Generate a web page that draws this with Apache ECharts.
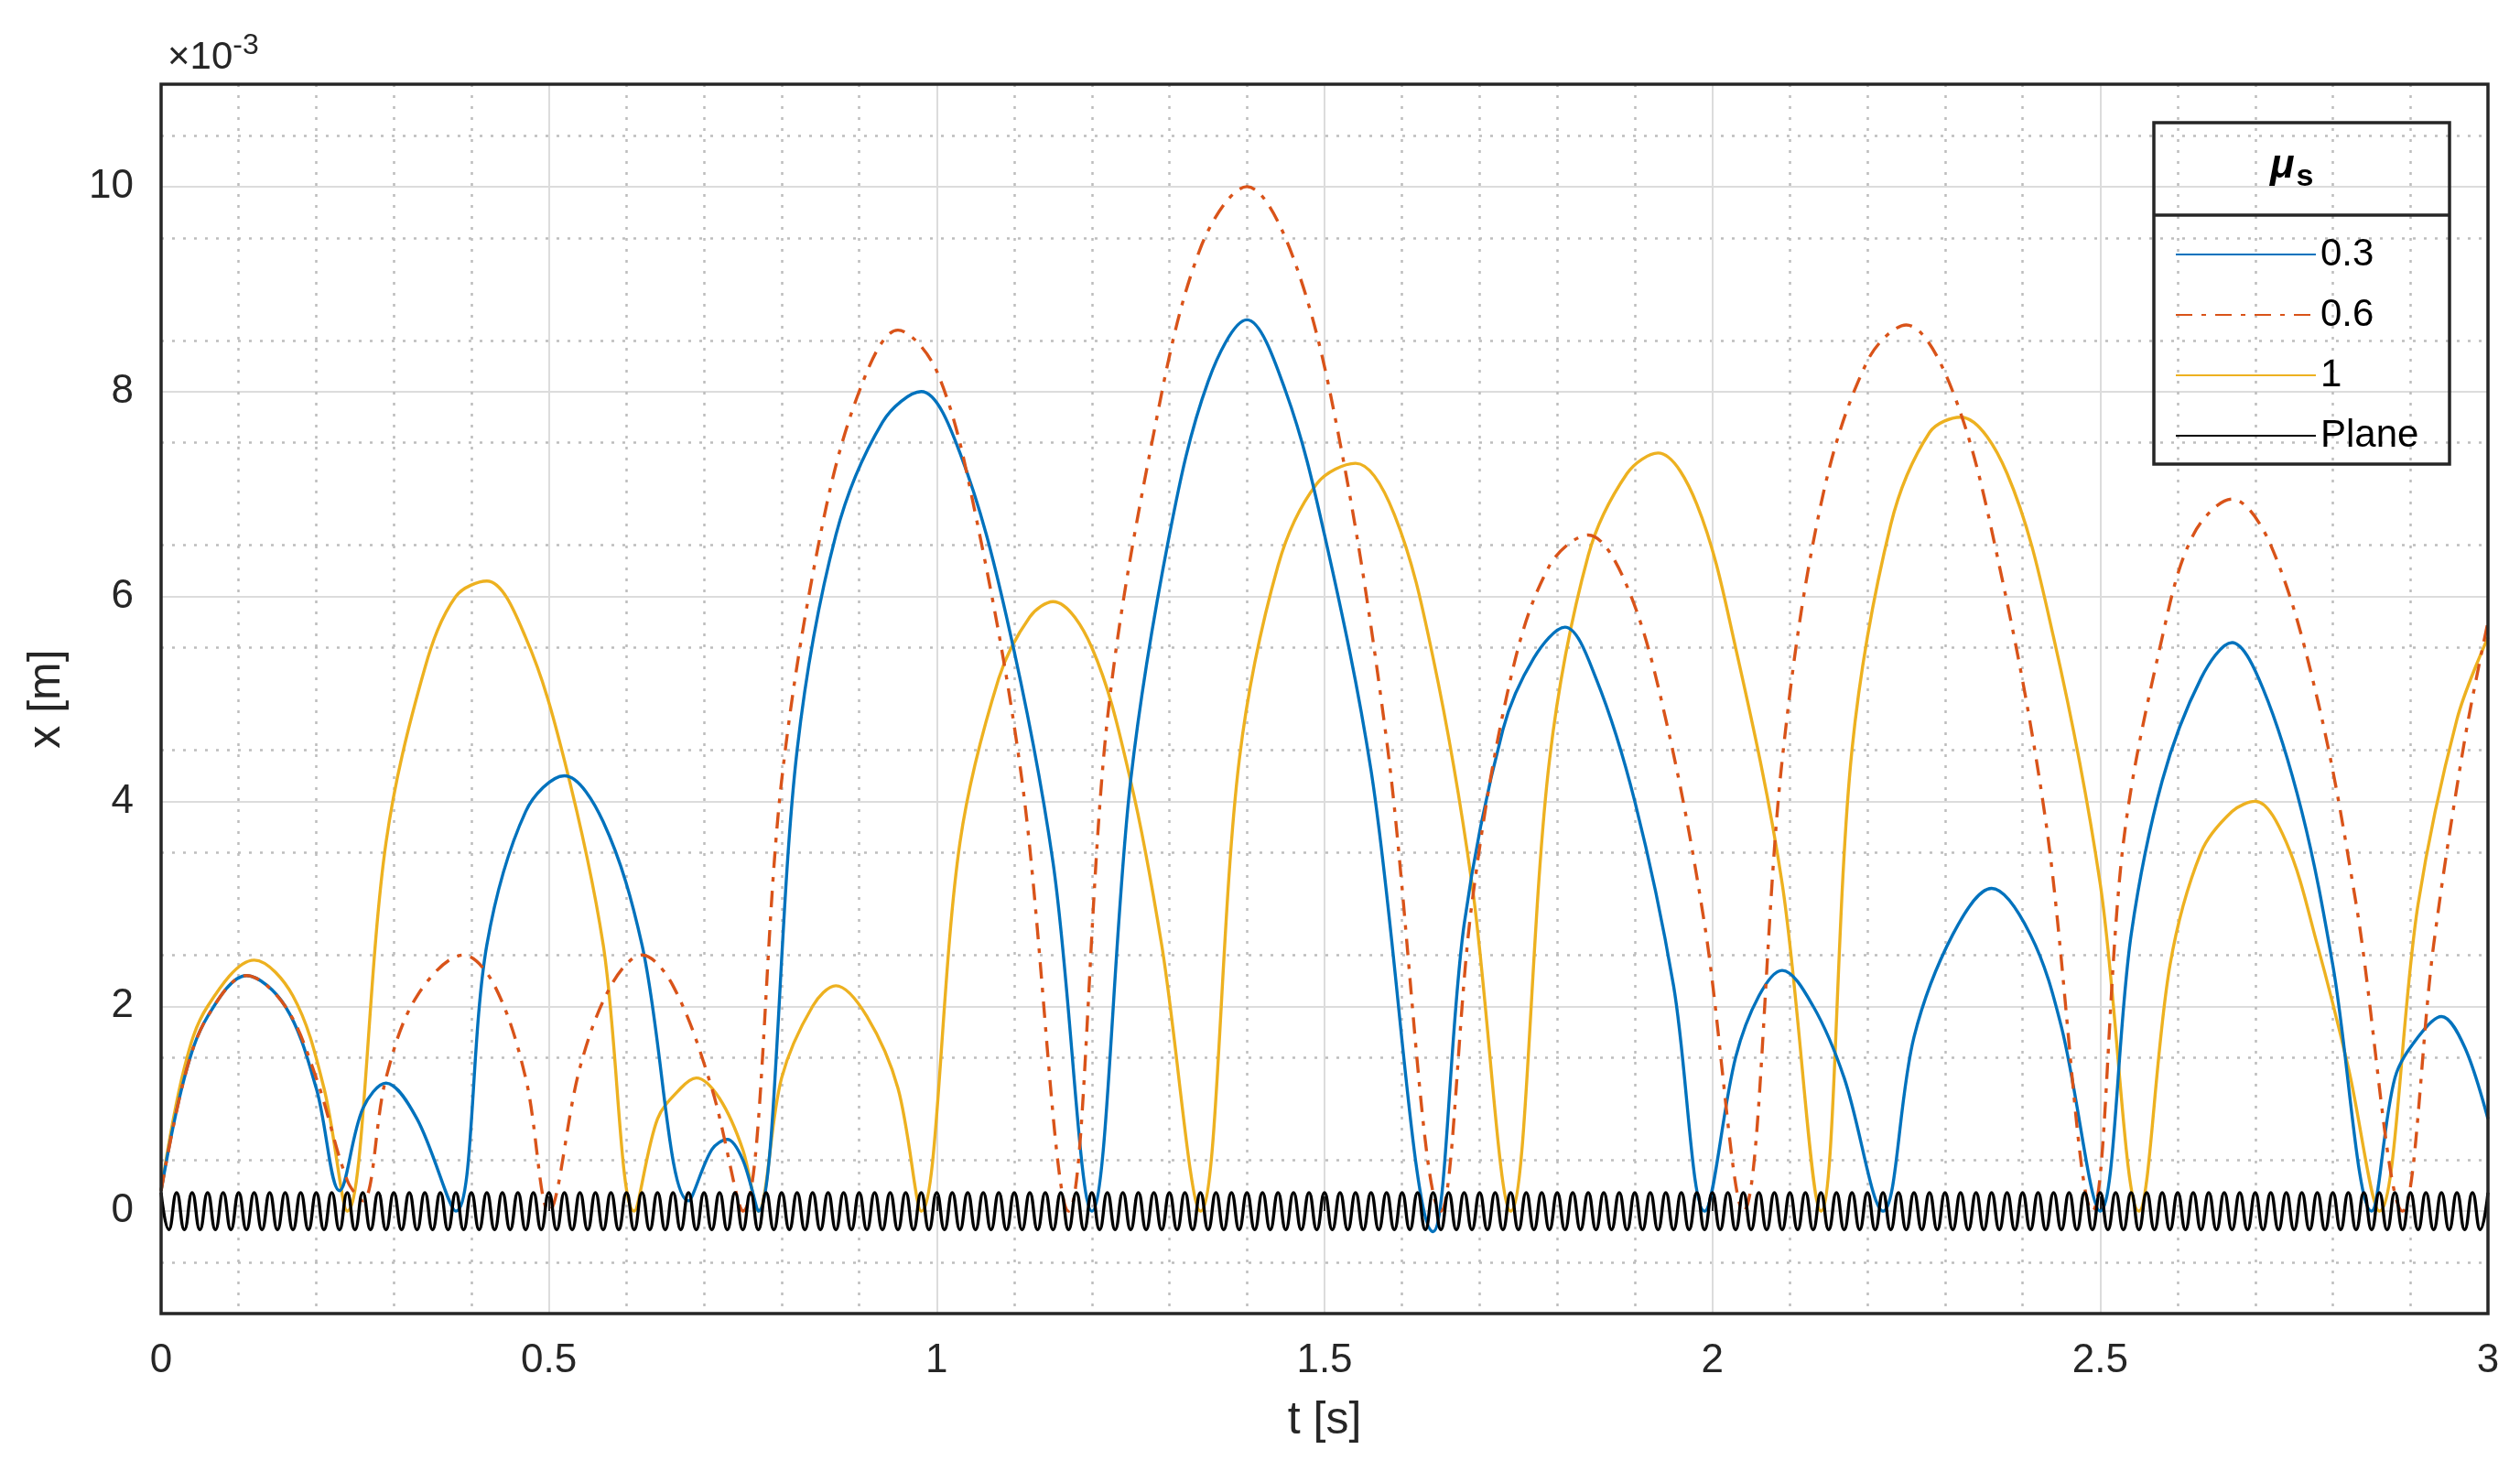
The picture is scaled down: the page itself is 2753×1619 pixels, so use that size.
<!DOCTYPE html>
<html><head><meta charset="utf-8">
<script src="https://cdn.jsdelivr.net/npm/echarts@6/dist/echarts.min.js"></script>
<style>html,body{margin:0;padding:0;background:#fff}#c{width:2753px;height:1619px}</style>
</head><body><div id="c"></div>
<script>
const seriesNames = ['0.3', '0.6', '1', 'Plane'];
const blue03 = [[0,0.2],[0.03,1.3],[0.06,1.9],[0.11,2.3],[0.16,2.0],[0.2,1.2],[0.23,0.2],[0.26,1.0],[0.29,1.25],[0.33,0.9],[0.38,0],[0.42,2.6],[0.47,3.9],[0.52,4.25],[0.57,3.8],[0.62,2.6],[0.68,0.1],[0.71,0.6],[0.73,0.7],[0.75,0.5],[0.77,0],[0.82,4.5],[0.87,6.6],[0.93,7.7],[0.98,8.0],[1.03,7.4],[1.09,5.8],[1.15,3.4],[1.2,0],[1.25,4.2],[1.30,6.6],[1.35,8.1],[1.40,8.7],[1.45,8.0],[1.50,6.6],[1.56,4.3],[1.64,-0.2],[1.68,2.8],[1.73,4.7],[1.77,5.4],[1.81,5.7],[1.85,5.2],[1.90,4.0],[1.95,2.2],[1.99,0],[2.03,1.5],[2.06,2.1],[2.09,2.35],[2.13,2.0],[2.17,1.3],[2.22,0],[2.26,1.7],[2.31,2.7],[2.36,3.15],[2.41,2.7],[2.45,1.8],[2.50,0],[2.54,2.7],[2.58,4.2],[2.63,5.2],[2.67,5.55],[2.71,5.1],[2.76,3.9],[2.80,2.4],[2.85,0],[2.88,1.3],[2.91,1.7],[2.94,1.9],[2.97,1.6],[3.0,0.9]];
const red06 = [[0,0.2],[0.03,1.3],[0.06,1.9],[0.11,2.3],[0.16,2.0],[0.2,1.3],[0.24,0.3],[0.26,0.1],[0.29,1.3],[0.33,2.1],[0.39,2.5],[0.43,2.2],[0.47,1.3],[0.5,0],[0.54,1.4],[0.58,2.2],[0.62,2.5],[0.66,2.2],[0.71,1.2],[0.75,0],[0.80,4.2],[0.85,6.6],[0.90,8.0],[0.95,8.6],[1.00,8.2],[1.05,6.8],[1.11,4.2],[1.17,0],[1.22,4.8],[1.28,7.6],[1.34,9.4],[1.40,10.0],[1.46,9.3],[1.52,7.5],[1.58,4.6],[1.65,0],[1.69,3.0],[1.74,5.2],[1.79,6.3],[1.84,6.6],[1.89,6.1],[1.94,4.8],[1.99,2.8],[2.04,0],[2.09,4.4],[2.14,6.9],[2.20,8.3],[2.25,8.65],[2.31,8.0],[2.37,6.3],[2.43,3.8],[2.49,0],[2.53,3.6],[2.58,5.6],[2.62,6.6],[2.67,6.95],[2.72,6.5],[2.78,5.0],[2.83,3.0],[2.89,0],[2.93,2.6],[2.97,4.6],[3.0,5.75]];
const yellow1 = [[0,0.2],[0.03,1.4],[0.06,2.0],[0.12,2.45],[0.17,2.1],[0.21,1.2],[0.24,0],[0.29,3.6],[0.34,5.3],[0.38,6.0],[0.42,6.15],[0.47,5.6],[0.52,4.4],[0.57,2.6],[0.61,0],[0.64,0.9],[0.67,1.2],[0.69,1.3],[0.72,1.1],[0.75,0.6],[0.77,0],[0.80,1.3],[0.84,2.0],[0.87,2.2],[0.91,1.9],[0.95,1.2],[0.98,0],[1.03,3.6],[1.08,5.2],[1.12,5.8],[1.15,5.95],[1.20,5.5],[1.25,4.2],[1.29,2.6],[1.34,0],[1.39,4.4],[1.44,6.3],[1.49,7.1],[1.54,7.3],[1.59,6.8],[1.64,5.4],[1.69,3.2],[1.74,0],[1.79,4.4],[1.84,6.4],[1.89,7.2],[1.93,7.4],[1.98,6.9],[2.03,5.5],[2.09,3.2],[2.14,0],[2.18,4.5],[2.23,6.7],[2.28,7.6],[2.32,7.75],[2.38,7.2],[2.44,5.6],[2.50,3.2],[2.55,0],[2.59,2.4],[2.63,3.5],[2.67,3.9],[2.70,4.0],[2.74,3.6],[2.78,2.6],[2.82,1.4],[2.86,0],[2.91,3.0],[2.96,4.8],[3.0,5.6]];
// plane: samples every 0.01 s
const planeStep = 0.01;
const planeVals = [
0.18,-0.18,0.18,-0.18,0.18,-0.18,0.18,-0.18,0.18,-0.18,0.18,-0.18,0.18,-0.18,0.18,-0.18,0.18,-0.18,0.18,-0.18,
0.18,-0.18,0.18,-0.18,0.18,-0.18,0.18,-0.18,0.18,-0.18,0.18,-0.18,0.18,-0.18,0.18,-0.18,0.18,-0.18,0.18,-0.18,
0.18,-0.18,0.18,-0.18,0.18,-0.18,0.18,-0.18,0.18,-0.18,0.18,-0.18,0.18,-0.18,0.18,-0.18,0.18,-0.18,0.18,-0.18,
0.18,-0.18,0.18,-0.18,0.18,-0.18,0.18,-0.18,0.18,-0.18,0.18,-0.18,0.18,-0.18,0.18,-0.18,0.18,-0.18,0.18,-0.18,
0.18,-0.18,0.18,-0.18,0.18,-0.18,0.18,-0.18,0.18,-0.18,0.18,-0.18,0.18,-0.18,0.18,-0.18,0.18,-0.18,0.18,-0.18,
0.18,-0.18,0.18,-0.18,0.18,-0.18,0.18,-0.18,0.18,-0.18,0.18,-0.18,0.18,-0.18,0.18,-0.18,0.18,-0.18,0.18,-0.18,
0.18,-0.18,0.18,-0.18,0.18,-0.18,0.18,-0.18,0.18,-0.18,0.18,-0.18,0.18,-0.18,0.18,-0.18,0.18,-0.18,0.18,-0.18,
0.18,-0.18,0.18,-0.18,0.18,-0.18,0.18,-0.18,0.18,-0.18,0.18,-0.18,0.18,-0.18,0.18,-0.18,0.18,-0.18,0.18,-0.18,
0.18,-0.18,0.18,-0.18,0.18,-0.18,0.18,-0.18,0.18,-0.18,0.18,-0.18,0.18,-0.18,0.18,-0.18,0.18,-0.18,0.18,-0.18,
0.18,-0.18,0.18,-0.18,0.18,-0.18,0.18,-0.18,0.18,-0.18,0.18,-0.18,0.18,-0.18,0.18,-0.18,0.18,-0.18,0.18,-0.18,
0.18,-0.18,0.18,-0.18,0.18,-0.18,0.18,-0.18,0.18,-0.18,0.18,-0.18,0.18,-0.18,0.18,-0.18,0.18,-0.18,0.18,-0.18,
0.18,-0.18,0.18,-0.18,0.18,-0.18,0.18,-0.18,0.18,-0.18,0.18,-0.18,0.18,-0.18,0.18,-0.18,0.18,-0.18,0.18,-0.18,
0.18,-0.18,0.18,-0.18,0.18,-0.18,0.18,-0.18,0.18,-0.18,0.18,-0.18,0.18,-0.18,0.18,-0.18,0.18,-0.18,0.18,-0.18,
0.18,-0.18,0.18,-0.18,0.18,-0.18,0.18,-0.18,0.18,-0.18,0.18,-0.18,0.18,-0.18,0.18,-0.18,0.18,-0.18,0.18,-0.18,
0.18,-0.18,0.18,-0.18,0.18,-0.18,0.18,-0.18,0.18,-0.18,0.18,-0.18,0.18,-0.18,0.18,-0.18,0.18,-0.18,0.18,-0.18,
0.18];
const yTickLabels = [0, 2, 4, 6, 8, 10];

const planeData = planeVals.map((v, i) => [+(i * planeStep).toFixed(2), v]);
const FONT = 'Liberation Sans, Arial, sans-serif';
const TXT = '#262626';
const T = 'rgba(0,0,0,0)';
const chart = echarts.init(document.getElementById('c'));
const G = {left: 176, right: 35, top: 92, bottom: 184};
const GW = 2753 - G.left - G.right, GH = 1619 - G.top - G.bottom;
chart.setOption({
  animation: false,
  backgroundColor: '#fff',
  grid: Object.assign({show: false, containLabel: false}, G),
  xAxis: [{
    type: 'value', min: 0, max: 3, interval: 0.5,
    name: 't [s]', nameLocation: 'middle', nameGap: 92,
    nameTextStyle: {fontFamily: FONT, fontSize: 50, color: TXT},
    axisLine: {show: false},
    axisTick: {inside: true, length: 16, lineStyle: {color: TXT, width: 2}},
    axisLabel: {fontFamily: FONT, fontSize: 44, color: TXT, margin: 30},
    splitLine: {show: true, lineStyle: {color: '#dcdcdc', width: 2}},
    minorTick: {show: false, splitNumber: 5},
    minorSplitLine: {show: true, lineStyle: {color: '#bdbdbd', width: 2.5, type: [3, 9]}}
  }],
  yAxis: [{
    type: 'value', min: -1, max: 11, interval: 0.5,
    name: 'x [m]', nameLocation: 'middle', nameGap: 100, nameRotate: 90,
    nameTextStyle: {fontFamily: FONT, fontSize: 50, color: TXT},
    axisLine: {show: false}, axisTick: {show: false},
    axisLabel: {fontFamily: FONT, fontSize: 44, color: TXT, margin: 30,
      formatter: v => (yTickLabels.indexOf(Math.round(v * 100) / 100) >= 0 ? String(Math.round(v)) : '')},
    splitLine: {show: true, lineStyle: {color: [T, T, '#dcdcdc', T], width: 2}}
  }, {
    type: 'value', min: -1, max: 11, interval: 0.5, position: 'left',
    axisLine: {show: false}, axisTick: {show: false}, axisLabel: {show: false},
    splitLine: {show: true, lineStyle: {color: [T, '#bdbdbd', T, '#bdbdbd'], width: 2.5, type: [3, 9]}}
  }],
  legend: {
    orient: 'vertical', left: 2371, top: 252,
    itemWidth: 153, itemHeight: 20, itemGap: 24,
    itemStyle: {opacity: 0},
    textStyle: {fontFamily: FONT, fontSize: 42, color: '#000', lineHeight: 42},
    data: seriesNames
  },
  graphic: [
    {type: 'rect', shape: {x: G.left, y: G.top, width: GW, height: GH}, style: {fill: 'rgba(255,255,255,0)', stroke: TXT, lineWidth: 3.5}, z: 100, silent: true},
    {type: 'rect', shape: {x: 2353, y: 134, width: 323, height: 373}, style: {fill: 'rgba(255,255,255,0)', stroke: TXT, lineWidth: 3.5}, z: 100},
    {type: 'line', shape: {x1: 2353, y1: 235, x2: 2676, y2: 235}, style: {stroke: TXT, lineWidth: 3.5}, z: 100},
    {type: 'text', left: 2480, top: 160, z: 100, style: {
      text: '{m|μ}{s|s}', rich: {
        m: {fontFamily: FONT, fontSize: 44, fontWeight: 'bold', fontStyle: 'italic', fill: '#000'},
        s: {fontFamily: FONT, fontSize: 34, fontWeight: 'bold', fill: '#000', padding: [24, 0, 0, 2]}
      }}},
    {type: 'text', left: 183, top: 34, z: 100, style: {
      text: '{a|×10}{b|-3}', rich: {
        a: {fontFamily: FONT, fontSize: 42, fill: TXT},
        b: {fontFamily: FONT, fontSize: 32, fill: TXT, padding: [0, 0, 26, 0]}
      }}}
  ],
  series: [
    {name: '0.3', type: 'line', data: blue03, symbol: 'none', smooth: 0.35, lineStyle: {color: '#0072BD', width: 3.4}, itemStyle: {color: '#0072BD'}, z: 3},
    {name: '0.6', type: 'line', data: red06, symbol: 'none', smooth: 0.35, lineStyle: {color: '#D95319', width: 3.4, type: [18, 10, 5, 10]}, itemStyle: {color: '#D95319'}, z: 4},
    {name: '1', type: 'line', data: yellow1, symbol: 'none', smooth: 0.35, lineStyle: {color: '#EDB120', width: 3.4}, itemStyle: {color: '#EDB120'}, z: 2},
    {name: 'Plane', type: 'line', data: planeData, symbol: 'none', smooth: 0.5, lineStyle: {color: '#000', width: 3.4}, itemStyle: {color: '#000'}, z: 5}
  ]
});
</script></body></html>
